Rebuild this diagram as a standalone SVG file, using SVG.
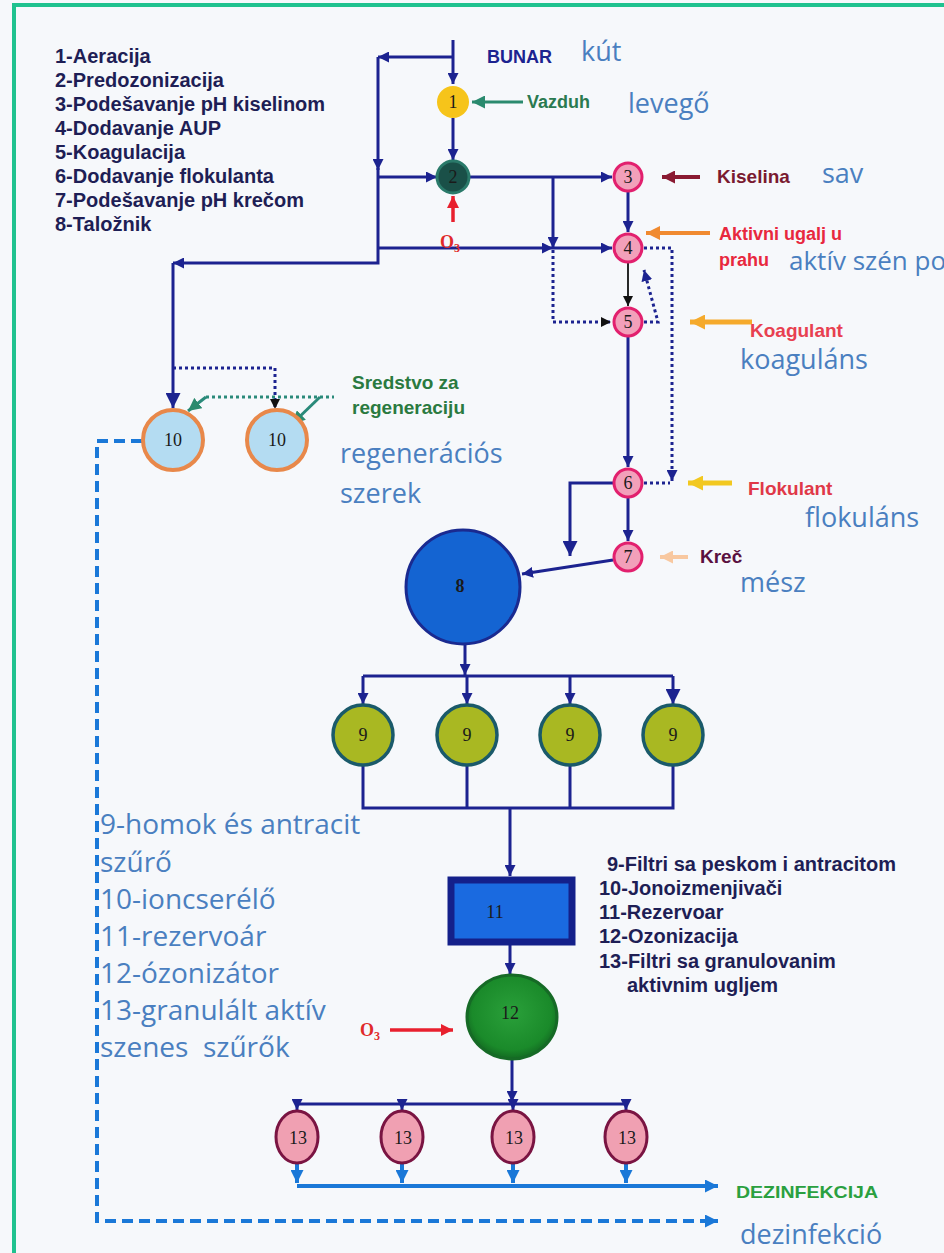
<svg xmlns="http://www.w3.org/2000/svg" width="944" height="1253" viewBox="0 0 944 1253">
<defs>
<style>
.nv{fill:none;stroke:#1c2390;stroke-width:3}
.dt{fill:none;stroke:#1c2390;stroke-width:3;stroke-dasharray:3 3}
.lb{fill:none;stroke:#1a78d8;stroke-width:4}
.lbd{fill:none;stroke:#1a78d8;stroke-width:4;stroke-dasharray:11 6}
.leg{font-family:"Liberation Sans",Arial,sans-serif;font-weight:bold;font-size:20px;fill:#1e1e55}
.lab{font-family:"Liberation Sans",Arial,sans-serif;font-weight:bold;font-size:19px}
.hu{font-family:"Open Sans","Noto Sans",sans-serif;font-size:27px;fill:#4a7fc0}
.hul{font-family:"Open Sans","Noto Sans",sans-serif;font-size:28px;fill:#4a7fc0}
.num{font-family:"Liberation Serif","Times New Roman",serif;font-size:18px;fill:#1a1a1a;text-anchor:middle}
.pk{fill:#f2a0ba;stroke:#e2206e;stroke-width:3}
.n9{fill:#a9b822;stroke:#1a5a6a;stroke-width:3.5}
.n10{fill:#b4dcf2;stroke:#e8884a;stroke-width:4}
.n13{fill:#f0a0b2;stroke:#7a1442;stroke-width:3}
</style>
<marker id="an" viewBox="0 0 10 10" refX="10" refY="5" markerWidth="11" markerHeight="11" markerUnits="userSpaceOnUse" orient="auto"><path d="M0,0 L10,5 L0,10 z" fill="#1c2390"/></marker>
<marker id="anL" viewBox="0 0 10 10" refX="10" refY="5" markerWidth="15" markerHeight="15" markerUnits="userSpaceOnUse" orient="auto"><path d="M0,0 L10,5 L0,10 z" fill="#1c2390"/></marker>
<marker id="ak" viewBox="0 0 10 10" refX="10" refY="5" markerWidth="10" markerHeight="10" markerUnits="userSpaceOnUse" orient="auto"><path d="M0,0 L10,5 L0,10 z" fill="#111"/></marker>
<marker id="ab" viewBox="0 0 10 10" refX="10" refY="5" markerWidth="13" markerHeight="13" markerUnits="userSpaceOnUse" orient="auto"><path d="M0,0 L10,5 L0,10 z" fill="#1a78d8"/></marker>
<marker id="ar" viewBox="0 0 10 10" refX="10" refY="5" markerWidth="12" markerHeight="12" markerUnits="userSpaceOnUse" orient="auto"><path d="M0,0 L10,5 L0,10 z" fill="#e8202e"/></marker>
<marker id="ag" viewBox="0 0 10 10" refX="10" refY="5" markerWidth="13" markerHeight="13" markerUnits="userSpaceOnUse" orient="auto"><path d="M0,0 L10,5 L0,10 z" fill="#2a8a6e"/></marker>
<marker id="akis" viewBox="0 0 10 10" refX="10" refY="5" markerWidth="13" markerHeight="13" markerUnits="userSpaceOnUse" orient="auto"><path d="M0,0 L10,5 L0,10 z" fill="#8a1a32"/></marker>
<marker id="aor" viewBox="0 0 10 10" refX="10" refY="5" markerWidth="14" markerHeight="14" markerUnits="userSpaceOnUse" orient="auto"><path d="M0,0 L10,5 L0,10 z" fill="#f08a30"/></marker>
<marker id="aam" viewBox="0 0 10 10" refX="10" refY="5" markerWidth="15" markerHeight="15" markerUnits="userSpaceOnUse" orient="auto"><path d="M0,0 L10,5 L0,10 z" fill="#f5aa2c"/></marker>
<marker id="aye" viewBox="0 0 10 10" refX="10" refY="5" markerWidth="15" markerHeight="15" markerUnits="userSpaceOnUse" orient="auto"><path d="M0,0 L10,5 L0,10 z" fill="#f2c820"/></marker>
<marker id="ape" viewBox="0 0 10 10" refX="10" refY="5" markerWidth="13" markerHeight="13" markerUnits="userSpaceOnUse" orient="auto"><path d="M0,0 L10,5 L0,10 z" fill="#f8c8a0"/></marker>
<radialGradient id="g12" cx="0.5" cy="0.45" r="0.55"><stop offset="0" stop-color="#2aa03a"/><stop offset="0.8" stop-color="#1a8a2a"/><stop offset="1" stop-color="#136a22"/></radialGradient>
</defs>
<rect x="0" y="0" width="944" height="1253" fill="#f6f8fb"/>
<path d="M14,1253 V5 H944" fill="none" stroke="#1fc28f" stroke-width="4"/>

<g id="legend-sr-top" class="leg">
<text x="55" y="63">1-Aeracija</text>
<text x="55" y="87">2-Predozonizacija</text>
<text x="55" y="111">3-Podešavanje pH kiselinom</text>
<text x="55" y="135">4-Dodavanje AUP</text>
<text x="55" y="159">5-Koagulacija</text>
<text x="55" y="183">6-Dodavanje flokulanta</text>
<text x="55" y="207">7-Podešavanje pH krečom</text>
<text x="55" y="231">8-Taložnik</text>
</g>
<g id="legend-sr-bottom" class="leg">
<text x="607" y="871">9-Filtri sa peskom i antracitom</text>
<text x="599" y="895">10-Jonoizmenjivači</text>
<text x="599" y="919">11-Rezervoar</text>
<text x="599" y="943">12-Ozonizacija</text>
<text x="599" y="968">13-Filtri sa granulovanim</text>
<text x="627" y="992">aktivnim ugljem</text>
</g>
<g id="legend-hu" class="hul">
<text x="100" y="834">9-homok és antracit</text>
<text x="100" y="872">szűrő</text>
<text x="100" y="909">10-ioncserélő</text>
<text x="100" y="946">11-rezervoár</text>
<text x="100" y="983">12-ózonizátor</text>
<text x="100" y="1020">13-granulált aktív</text>
<text x="100" y="1057" xml:space="preserve">szenes  szűrők</text>
</g>

<g id="connectors">
<path class="nv" d="M453,40 V84" marker-end="url(#an)"/>
<path class="nv" d="M453,57 H378" marker-end="url(#an)"/>
<path class="nv" d="M378,57 V170" marker-end="url(#an)"/>
<path class="nv" d="M378,168 V263 H173" marker-end="url(#an)"/>
<path class="nv" d="M173,263 V408" marker-end="url(#anL)"/>
<path class="nv" d="M378,177 H437" marker-end="url(#an)"/>
<path class="nv" d="M378,248 H553" marker-end="url(#an)"/>
<path class="nv" d="M553,248 H612" marker-end="url(#an)"/>
<path class="nv" d="M453,118 V160" marker-end="url(#an)"/>
<path class="nv" d="M469,177 H612" marker-end="url(#an)"/>
<path class="nv" d="M553,177 V248" marker-end="url(#an)"/>
<path class="nv" d="M628,192 V232" marker-end="url(#an)"/>
<path fill="none" stroke="#111" stroke-width="1.8" d="M628,263 V306" marker-end="url(#ak)"/>
<path class="nv" d="M628,337 V467" marker-end="url(#an)"/>
<path class="nv" d="M628,498 V541" marker-end="url(#an)"/>
<path class="nv" d="M613,483 H570 V556" marker-end="url(#anL)"/>
<path class="nv" d="M613,560 L522,574" marker-end="url(#an)"/>
<path class="dt" d="M553,250 V322 H611" marker-end="url(#ak)"/>
<path class="dt" d="M644,248 H672 V481" marker-end="url(#an)"/>
<path class="dt" d="M644,483 H670"/>
<path class="dt" d="M644,322 H658 L644,270" marker-end="url(#an)"/>
<path class="dt" d="M173,368 H275 V409" marker-end="url(#ak)"/>
<path class="nv" d="M465,644 V675" marker-end="url(#an)"/>
<path class="nv" d="M363,676 H673"/>
<path class="nv" d="M363,676 V704" marker-end="url(#an)"/>
<path class="nv" d="M467,676 V704" marker-end="url(#an)"/>
<path class="nv" d="M570,676 V704" marker-end="url(#an)"/>
<path class="nv" d="M673,676 V704" marker-end="url(#anL)"/>
<path class="nv" d="M363,765 V808 H673 V765 M467,765 V808 M570,765 V808"/>
<path class="nv" d="M510,808 V876" marker-end="url(#an)"/>
<path class="nv" d="M510,944 V974" marker-end="url(#an)"/>
<path class="nv" d="M512,1059 V1102" marker-end="url(#an)"/>
<path class="nv" d="M297,1104 H626"/>
<path class="nv" d="M297,1104 V1110" marker-end="url(#an)"/>
<path class="nv" d="M402,1104 V1110" marker-end="url(#an)"/>
<path class="nv" d="M513,1104 V1110" marker-end="url(#an)"/>
<path class="nv" d="M626,1104 V1110" marker-end="url(#an)"/>
<path class="lb" d="M297,1163 V1183" marker-end="url(#ab)"/>
<path class="lb" d="M402,1163 V1183" marker-end="url(#ab)"/>
<path class="lb" d="M513,1163 V1183" marker-end="url(#ab)"/>
<path class="lb" d="M626,1163 V1183" marker-end="url(#ab)"/>
<path class="lb" d="M297,1186 H718" marker-end="url(#ab)"/>
<path class="lbd" d="M142,441 H97 V1221 H712"/>
<path class="lb" d="M706,1221 H718" marker-end="url(#ab)"/>
<path fill="none" stroke="#2a8a6e" stroke-width="3" d="M523,102 H472" marker-end="url(#ag)"/>
<path fill="none" stroke="#e8202e" stroke-width="3.5" d="M453,222 V196" marker-end="url(#ar)"/>
<path fill="none" stroke="#8a1a32" stroke-width="4" d="M700,177 H662" marker-end="url(#akis)"/>
<path fill="none" stroke="#f08a30" stroke-width="4" d="M710,233 H646" marker-end="url(#aor)"/>
<path fill="none" stroke="#f5aa2c" stroke-width="5" d="M752,322 H690" marker-end="url(#aam)"/>
<path fill="none" stroke="#f2c820" stroke-width="5" d="M732,483 H688" marker-end="url(#aye)"/>
<path fill="none" stroke="#f8c8a0" stroke-width="4" d="M688,557 H660" marker-end="url(#ape)"/>
<path fill="none" stroke="#e8202e" stroke-width="3.5" d="M390,1030 H453" marker-end="url(#ar)"/>
<path fill="none" stroke="#2a8a7a" stroke-width="3" stroke-dasharray="3 3" d="M206,397 H334"/>
<path fill="none" stroke="#2a8a7a" stroke-width="3" d="M206,397 L188,411" marker-end="url(#ag)"/>
<path fill="none" stroke="#2a8a7a" stroke-width="3" d="M320,397 L292,424" marker-end="url(#ag)"/>
</g>

<g id="labels" class="lab">
<text x="487" y="63" fill="#1c2390" style="font-size:18px">BUNAR</text>
<text x="527" y="108" fill="#2a7a50" style="font-size:18px">Vazduh</text>
<text x="717" y="183" fill="#7a1a30">Kiselina</text>
<text x="719" y="240" fill="#e8283e" style="font-size:18px">Aktivni ugalj u</text>
<text x="719" y="266" fill="#e8283e" style="font-size:18px">prahu</text>
<text x="750" y="337" fill="#e84050">Koagulant</text>
<text x="748" y="495" fill="#e03848">Flokulant</text>
<text x="700" y="563" fill="#5a1040">Kreč</text>
<text x="352" y="389" fill="#2a7a40">Sredstvo za</text>
<text x="352" y="414" fill="#2a7a40">regeneraciju</text>
<text x="736" y="1198" fill="#2aa040" style="font-size:17px" textLength="142" lengthAdjust="spacingAndGlyphs">DEZINFEKCIJA</text>
<text x="440" y="248" fill="#e02a2a" style="font-family:'Liberation Serif',serif;font-size:18px">O<tspan style="font-size:12px" dy="4">3</tspan></text>
<text x="360" y="1036" fill="#e02a2a" style="font-family:'Liberation Serif',serif;font-size:18px">O<tspan style="font-size:12px" dy="4">3</tspan></text>
</g>
<g id="labels-hu" class="hu">
<text x="581" y="61">kút</text>
<text x="628" y="113">levegő</text>
<text x="822" y="183">sav</text>
<text x="789" y="270" style="font-size:26px">aktív szén po</text>
<text x="740" y="369">koaguláns</text>
<text x="805" y="527">flokuláns</text>
<text x="340" y="463">regenerációs</text>
<text x="340" y="503">szerek</text>
<text x="740" y="592">mész</text>
<text x="740" y="1244">dezinfekció</text>
</g>

<g id="node1"><circle cx="453" cy="102" r="16" fill="#f6c41a"/><text class="num" x="453" y="108">1</text></g>
<g id="node2"><circle cx="453" cy="177" r="16" fill="#1a5048" stroke="#2a7a6a" stroke-width="3"/><text class="num" x="453" y="183">2</text></g>
<g id="node3"><circle class="pk" cx="628" cy="177" r="14"/><text class="num" x="628" y="183">3</text></g>
<g id="node4"><circle class="pk" cx="628" cy="248" r="14"/><text class="num" x="628" y="254">4</text></g>
<g id="node5"><circle class="pk" cx="628" cy="322" r="14"/><text class="num" x="628" y="328">5</text></g>
<g id="node6"><circle class="pk" cx="628" cy="483" r="14"/><text class="num" x="628" y="489">6</text></g>
<g id="node7"><circle class="pk" cx="628" cy="557" r="14"/><text class="num" x="628" y="563">7</text></g>
<g id="node8"><circle cx="463" cy="587" r="57" fill="#1464d2" stroke="#1a2a90" stroke-width="3"/><text class="num" x="460" y="592" style="font-weight:bold">8</text></g>
<g id="node9a"><circle class="n9" cx="363" cy="735" r="30"/><text class="num" x="363" y="741">9</text></g>
<g id="node9b"><circle class="n9" cx="467" cy="735" r="30"/><text class="num" x="467" y="741">9</text></g>
<g id="node9c"><circle class="n9" cx="570" cy="735" r="30"/><text class="num" x="570" y="741">9</text></g>
<g id="node9d"><circle class="n9" cx="673" cy="735" r="30"/><text class="num" x="673" y="741">9</text></g>
<g id="node10a"><circle class="n10" cx="173" cy="440" r="30"/><text class="num" x="173" y="446">10</text></g>
<g id="node10b"><circle class="n10" cx="277" cy="440" r="30"/><text class="num" x="277" y="446">10</text></g>
<g id="node11"><rect x="451" y="880" width="121" height="62" fill="#1a6ae0" stroke="#14208a" stroke-width="7"/><text class="num" x="495" y="918">11</text></g>
<g id="node12"><ellipse cx="512" cy="1017" rx="45" ry="42" fill="url(#g12)" stroke="#166a26" stroke-width="3"/><text class="num" x="510" y="1019">12</text></g>
<g id="node13a"><ellipse class="n13" cx="297" cy="1137" rx="21" ry="26"/><text class="num" x="298" y="1144">13</text></g>
<g id="node13b"><ellipse class="n13" cx="402" cy="1137" rx="21" ry="26"/><text class="num" x="403" y="1144">13</text></g>
<g id="node13c"><ellipse class="n13" cx="513" cy="1137" rx="21" ry="26"/><text class="num" x="514" y="1144">13</text></g>
<g id="node13d"><ellipse class="n13" cx="626" cy="1137" rx="21" ry="26"/><text class="num" x="627" y="1144">13</text></g>
</svg>
